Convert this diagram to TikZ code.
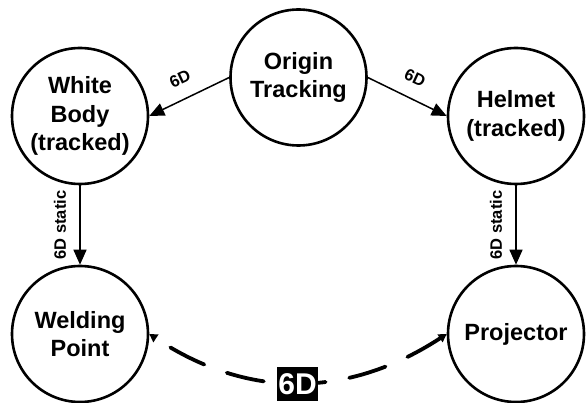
\documentclass[tikz,border=0pt]{standalone}
\usepackage{fontspec}
\setmainfont{Liberation Sans}
\usetikzlibrary{arrows.meta}
\tikzset{
  circ/.style={circle, draw, line width=2.6pt, minimum size=136pt, inner sep=0pt, align=center,
    font=\fontsize{23.5}{28.5}\selectfont\bfseries},
  lab/.style={font=\fontsize{16.5}{18}\selectfont\bfseries, inner sep=0pt},
  conn/.style={line width=1.5pt, -{Triangle[length=15pt,width=13pt]}},
  dconn/.style={line width=3.8pt, line cap=round, dash pattern=on 38pt off 24pt,
    {Triangle[length=8pt,width=9pt]}-{Triangle[length=8pt,width=9pt]}},
  blackbox/.style={fill=black, text=white, font=\fontsize{30}{32}\selectfont\bfseries,
    inner xsep=1pt, inner ysep=6pt}
}
\begin{document}
\begin{tikzpicture}[x=1pt,y=-1pt]
\useasboundingbox (0,0) rectangle (587,403);
\node[circ] (origin) at (298.5,77.5) {Origin\\Tracking};
\node[circ] (body) at (80,116) {White\\Body\\(tracked)};
\node[circ] (helmet) at (516,116) {Helmet\\(tracked)};
\node[circ] (weld) at (80,334) {Welding\\Point};
\node[circ] (proj) at (516,334) {Projector};

\draw[conn] (origin.west) -- (body.east);
\draw[conn] (origin.east) -- (helmet.west);
\draw[conn] (body.south) -- (weld.north);
\draw[conn] (helmet.south) -- (proj.north);

\node[lab, rotate=25] (l1) at (180,79) {6D};
\node[lab, rotate=-25] (l2) at (415,78) {6D};
\node[lab, rotate=90] (l3) at (60,225) {6D static};
\node[lab, rotate=90] (l4) at (496,225) {6D static};

\draw[dconn] (proj.west) .. controls (347,399) and (247,399) .. (weld.east);
\node[blackbox] (six) at (297.5,384) {6D};
\end{tikzpicture}
\end{document}
